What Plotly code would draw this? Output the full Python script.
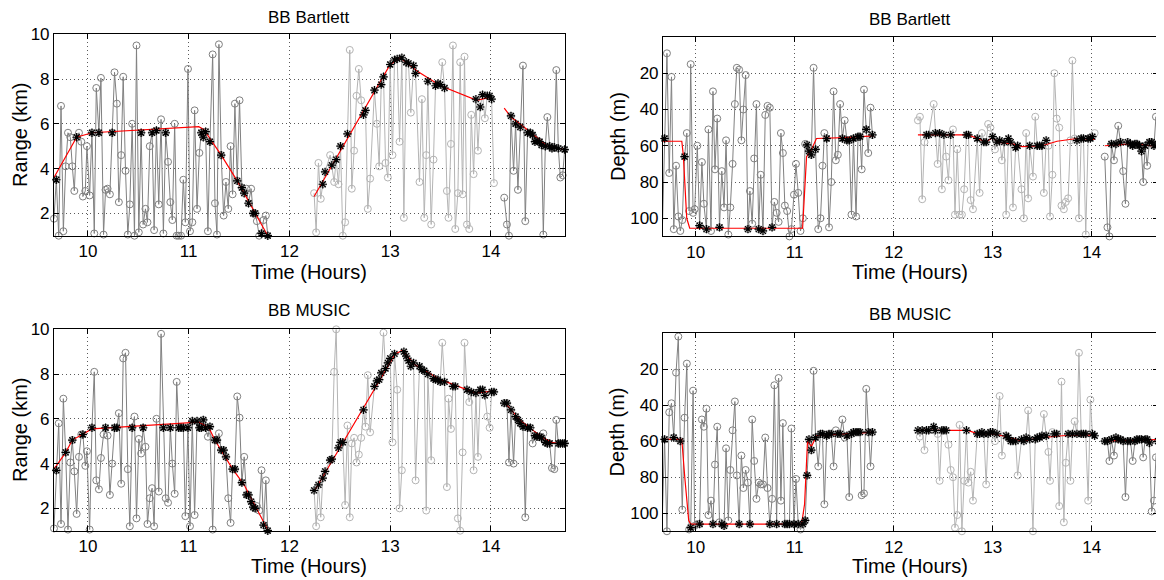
import plotly.graph_objects as go

# sample times in hours (same for all four panels)
T1 = [9.663, 9.686, 9.710, 9.733, 9.756, 9.779, 9.802, 9.825, 9.845, 9.865,
      9.888, 9.911, 9.934, 9.950, 9.974, 9.990, 10.017, 10.040, 10.063, 10.083,
      10.109, 10.129, 10.155, 10.175, 10.195, 10.218, 10.241, 10.264, 10.287, 10.307,
      10.330, 10.350, 10.373, 10.396, 10.416, 10.439, 10.462, 10.482, 10.505, 10.528,
      10.548, 10.571, 10.591, 10.614, 10.637, 10.657, 10.680, 10.703, 10.726, 10.749,
      10.772, 10.795, 10.818, 10.838, 10.861, 10.881, 10.901, 10.924, 10.947, 10.967,
      10.993, 11.013, 11.036, 11.059, 11.083, 11.106, 11.125, 11.145, 11.168, 11.191,
      11.211, 11.238, 11.261, 11.281, 11.300, 11.323, 11.347, 11.370, 11.393, 11.416,
      11.436, 11.459, 11.482, 11.505, 11.528, 11.551, 11.574, 11.594, 11.620, 11.640,
      11.660, 11.677, 11.700, 11.723, 11.743, 11.766, 11.785]
T2 = [12.245, 12.265, 12.288, 12.311, 12.331, 12.354, 12.404, 12.421, 12.444, 12.464,
      12.487, 12.507, 12.530, 12.553, 12.576, 12.599, 12.619, 12.642, 12.666, 12.689,
      12.712, 12.735, 12.755, 12.778, 12.801, 12.844, 12.868, 12.891, 12.911, 12.934,
      12.954, 12.977, 13.000, 13.023, 13.043, 13.070, 13.093, 13.116, 13.136, 13.159,
      13.182, 13.205, 13.232, 13.252, 13.291, 13.315, 13.338, 13.358, 13.374, 13.407,
      13.430, 13.450, 13.474, 13.497, 13.517, 13.540, 13.563, 13.579, 13.603, 13.623,
      13.646, 13.672, 13.695, 13.719, 13.738, 13.762, 13.785, 13.805, 13.828, 13.851,
      13.871, 13.894, 13.917, 13.940, 13.964, 13.987, 14.007, 14.030]
T3 = [14.132, 14.159, 14.179, 14.199, 14.225, 14.245, 14.268, 14.291, 14.318, 14.341,
      14.364, 14.391, 14.414, 14.437, 14.457, 14.483, 14.503, 14.520, 14.540, 14.560,
      14.583, 14.606, 14.629, 14.649, 14.669, 14.689, 14.712, 14.732]

# ---- BB Bartlett ----
BART_RANGE1 = [1.76, 3.5, 1.0, 6.8, 1.2, 4.1, 5.6, 5.4, 4.1, 3.0,
               5.4, 5.6, 5.2, 2.75, 3.0, 5.0, 2.8, 5.6, 1.1, 7.6,
               5.6, 8.05, 1.05, 3.05, 3.1, 2.85, 5.6, 8.3, 6.9, 2.5,
               4.6, 8.1, 3.9, 1.05, 2.4, 6.0, 1.0, 9.5, 1.15, 5.6,
               1.5, 2.2, 1.6, 5.0, 5.6, 1.25, 5.7, 2.4, 6.2, 1.1,
               5.6, 4.3, 2.5, 1.7, 6.0, 1.0, 1.0, 1.0, 3.5, 1.6,
               8.45, 1.2, 1.6, 6.6, 2.2, 4.7, 5.6, 5.4, 5.65, 1.2,
               5.2, 9.1, 2.45, 1.05, 9.55, 4.6, 1.9, 3.4, 2.2, 5.0,
               2.85, 6.9, 3.45, 7.05, 3.15, 2.9, 3.1, 2.45, 3.1, 2.0,
               2.0, 1.65, 1.0, 1.1, 1.7, 1.9, 1.0]
BART_RANGE2 = [2.9, 1.15, 4.25, 2.65, 3.3, 3.85, 4.6, 4.15, 3.4, 4.4,
               3.3, 5.0, 1.0, 1.6, 5.55, 9.3, 3.1, 4.8, 7.25, 8.45,
               7.05, 6.4, 6.6, 2.2, 3.55, 7.5, 6.0, 4.1, 7.75, 8.1,
               4.25, 3.6, 8.65, 4.6, 8.85, 8.9, 5.2, 8.95, 1.8, 8.75,
               8.7, 6.5, 8.6, 8.25, 3.4, 7.1, 1.8, 4.6, 7.9, 1.5,
               4.4, 7.7, 7.8, 7.75, 8.75, 7.6, 3.0, 1.8, 5.1, 9.5,
               1.3, 2.9, 8.75, 2.85, 9.0, 1.5, 1.3, 6.4, 3.75, 7.1,
               4.8, 6.75, 7.3, 6.25, 7.25, 7.25, 7.1, 3.35]
BART_RANGE3 = [2.7, 1.5, 1.0, 6.35, 3.9, 6.0, 3.05, 5.85, 8.6, 1.65,
               5.6, 5.6, 5.5, 5.2, 5.25, 5.2, 5.05, 1.05, 5.0, 6.3,
               5.0, 4.9, 4.95, 8.4, 4.9, 3.6, 3.7, 4.85]

BART_DEPTH1 = [108, 56, 9, 75, 22, 106, 71, 99, 107, 101,
               66, 53, 96, 15, 97, 95, 60, 104, 69, 92,
               106, 51, 107, 30, 73, 45, 105, 74, 94, 57,
               109, 94, 70, 37, 17, 18, 57, 40, 21, 106,
               85, 103, 67, 37, 106, 76, 107, 43, 38, 39,
               105, 91, 97, 102, 53, 64, 93, 96, 110, 106,
               87, 70, 86, 107, 100, 59, 59.5, 63, 65, 17,
               62, 106, 100, 71, 53, 56, 105, 80, 30, 68,
               65, 37, 56, 46, 57, 57, 98, 56, 99, 55,
               55, 73, 29, 51, 64, 39, 54]
BART_DEPTH2 = [46, 44, 89.5, 58, 54, 54, 37, 53, 70, 53,
               84, 54, 66, 79, 54, 51, 98, 62, 98, 98,
               84, 54, 54, 90, 95, 56, 86, 53, 58, 58,
               48, 50, 55, 62, 58, 57, 68, 58, 98, 56,
               58, 94, 61, 60, 84, 100, 53, 89, 60, 77,
               44, 60, 60, 60, 86, 57, 60, 99, 76, 20,
               45, 50, 93, 95, 91, 89, 57, 13, 56, 57,
               100, 56, 56, 109, 56, 56, 55, 53]
BART_DEPTH3 = [66, 105, 110, 59, 68, 59, 49, 58, 74, 92,
               58, 59, 60, 59, 59, 60, 63, 80, 60, 71,
               58, 58, 60, 44, 59, 74, 100, 60]

# indices of the samples that sit on the track (asterisks)
BART_HIT1 = [1, 10, 17, 20, 26, 39, 44, 46, 50, 66, 67, 68, 70, 75, 82, 84, 85, 87, 89, 90, 93, 96]
BART_HIT2 = [4, 5, 7, 9, 11, 14, 21, 22, 25, 28, 29, 32, 34, 35, 37, 39, 40, 42, 43, 48,
             51, 52, 53, 55, 69, 71, 72, 74, 75, 76]
BART_HIT3 = [3, 5, 7, 10, 11, 12, 13, 14, 15, 16, 18, 20, 21, 22, 24, 27]

BART_RANGE_TRACK_T = [9.663, 9.888, 10.04, 11.1, 11.15, 11.323, 11.482, 11.785, None,
                      12.245, 13.0, 13.1, 13.27, 13.5, 13.86, 14.007, None,
                      14.132, 14.2, 14.4, 14.56, 14.732]
BART_RANGE_TRACK = [3.6, 5.4, 5.6, 5.87, 5.75, 4.6, 3.45, 1.0, None,
                    2.75, 8.65, 8.95, 8.35, 7.7, 7.05, 7.2, None,
                    6.7, 6.3, 5.6, 5.0, 4.85]
BART_DEPTH_TRACK_T = [9.663, 9.86, 9.875, 9.91, 9.94, 11.08, 11.12, 11.17, 11.22, 11.5, 11.8, None,
                      12.245, 12.75, 12.85, 12.93, 13.0, 13.05, 13.2, 13.3, 13.5, 13.65, 13.85, 14.03, None,
                      14.132, 14.4, 14.6, 14.732]
BART_DEPTH_TRACK = [57.5, 57.5, 65, 100, 105.5, 105.5, 66, 62, 56, 55.5, 54.5, None,
                    54, 54, 56, 58, 55.5, 58, 59, 60.5, 60, 57.5, 56, 56.5, None,
                    60, 59, 60, 60]

# ---- BB MUSIC ----
MUSIC_RANGE1 = [1.1, 3.7, 5.8, 1.3, 6.9, 4.5, 1.05, 4.05, 5.05, 3.65,
                1.75, 4.3, 5.3, 5.3, 3.9, 4.55, 1.05, 5.6, 8.1, 3.25,
                2.85, 4.25, 5.3, 5.6, 5.25, 2.6, 4.0, 5.6, 5.6, 6.25,
                3.1, 8.7, 8.95, 3.75, 1.2, 5.6, 6.1, 1.55, 5.1, 4.45,
                5.6, 4.75, 1.3, 2.45, 2.9, 1.2, 6.0, 2.75, 9.8, 5.6,
                2.45, 2.25, 5.6, 4.0, 2.65, 7.65, 5.6, 5.6, 5.6, 1.65,
                5.6, 1.2, 5.9, 1.7, 5.9, 5.6, 5.6, 5.95, 5.6, 5.2,
                5.65, 1.05, 5.05, 5.05, 5.35, 4.6, 4.6, 4.3, 2.45, 1.35,
                3.75, 3.75, 7.0, 6.05, 3.15, 4.3, 2.6, 2.6, 2.3, 2.05,
                2.0, 2.1, 1.9, 3.7, 1.25, 3.25, 1.0]
MUSIC_RANGE2 = [2.8, 1.2, 3.05, 1.6, 3.35, 3.65, 4.15, 4.2, 8.1, 10.0,
                4.7, 4.95, 4.95, 2.15, 5.7, 1.6, 4.9, 5.15, 4.05, 4.4,
                5.15, 6.4, 5.65, 7.95, 5.4, 7.45, 7.7, 7.75, 8.05, 9.85,
                8.25, 8.5, 8.7, 4.95, 8.9, 7.3, 2.0, 3.7, 9.0, 8.8,
                8.6, 8.35, 8.5, 3.25, 8.35, 8.2, 8.15, 1.9, 8.0, 4.15,
                7.8, 7.75, 7.75, 7.65, 9.4, 7.65, 2.95, 6.9, 5.55, 7.45,
                7.45, 1.55, 1.0, 4.5, 9.4, 7.3, 6.75, 7.2, 3.7, 7.15,
                4.3, 7.3, 7.3, 7.05, 6.1, 5.6, 7.2, 7.2]
MUSIC_RANGE3 = [6.7, 6.7, 4.05, 6.4, 4.0, 6.1, 5.95, 5.8, 5.65, 1.6,
                5.6, 5.6, 4.9, 5.25, 5.2, 5.2, 5.15, 5.35, 4.95, 4.9,
                4.9, 3.8, 3.75, 5.95, 4.9, 4.9, 4.9, 4.9]

MUSIC_DEPTH1 = [103, 59, 110, 44, 39, 58, 22, 2, 60, 98,
                47, 17, 109, 108, 32, 107, 106, 106, 48, 52,
                42, 101, 93, 106, 73, 52, 105, 106, 107, 64,
                104, 76, 54, 38, 79, 106, 68, 86, 76, 83,
                106, 48, 71, 92, 83, 84, 84, 58, 86, 106,
                92, 29, 106, 25, 93, 50, 106, 106, 106, 53,
                106, 81, 106, 109, 106, 104, 79, 59, 65, 21,
                58, 74, 56, 56, 95, 57, 56, 56, 74, 54,
                56, 56, 48, 58, 57, 91, 56, 55, 55, 55,
                55, 90, 89, 31, 55, 74, 55]
MUSIC_DEPTH2 = [54, 57.5, 54, 65, 54, 54, 52, 54, 56, 82,
                54, 54, 54, 62, 76, 80, 108, 101, 51, 110,
                82, 54, 83, 77, 93, 56, 56, 55, 56, 84,
                56, 55, 55, 60, 56, 35, 68, 57, 57, 58,
                60, 60, 60, 79, 59, 60, 58, 43, 59, 110,
                59, 58, 58, 57, 45, 57, 66, 82, 55, 56,
                56, 96, 27, 105, 72, 56, 82, 56, 49, 56,
                11, 56, 56, 56, 93, 37, 56, 57]
MUSIC_DEPTH3 = [60, 60, 71, 59, 68, 58, 59, 59, 60, 91,
                60, 60, 71, 60, 59, 59, 59, 69, 59, 59,
                61, 99, 93, 69, 60, 60, 60, 60]

MUSIC_HIT1 = [1, 5, 8, 13, 17, 23, 27, 28, 35, 40, 49, 52, 56, 57, 58, 60, 62, 64, 65, 66,
              67, 68, 70, 72, 73, 75, 76, 77, 80, 81, 84, 86, 87, 88, 89, 90, 94, 96]
MUSIC_HIT2 = [0, 2, 4, 5, 6, 7, 10, 11, 12, 21, 25, 26, 27, 28, 30, 31, 32, 34, 38, 39,
              40, 41, 42, 44, 45, 46, 48, 50, 51, 52, 53, 55, 59, 60, 65, 67, 69, 71, 72, 73,
              76, 77]
MUSIC_HIT3 = [0, 1, 3, 5, 6, 7, 8, 10, 11, 13, 14, 15, 16, 18, 19, 20, 24, 25, 26, 27]

MUSIC_RANGE_TRACK_T = [9.663, 9.78, 9.845, 9.95, 10.04, 11.1, 11.2, 11.26, 11.32, 11.43, 11.55, 11.67, 11.79, None,
                       12.245, 13.05, 13.12, 13.25, 13.5, 13.7, 13.85, 14.03, None,
                       14.132, 14.2, 14.3, 14.4, 14.5, 14.6, 14.735]
MUSIC_RANGE_TRACK = [3.75, 4.5, 5.05, 5.3, 5.55, 5.85, 5.6, 5.05, 4.6, 3.8, 3.05, 2.0, 1.0, None,
                     2.75, 8.9, 9.05, 8.4, 7.75, 7.4, 7.15, 7.25, None,
                     6.75, 6.4, 5.9, 5.55, 5.2, 4.95, 4.85]
MUSIC_DEPTH_TRACK_T = [9.663, 9.86, 9.89, 9.93, 9.95, 11.07, 11.1, 11.13, 11.17, 11.22, 11.5, 11.8, None,
                       12.245, 12.75, 12.85, 13.0, 13.1, 13.3, 13.5, 13.7, 14.03, None,
                       14.132, 14.4, 14.732]
MUSIC_DEPTH_TRACK = [59, 59, 80, 104, 106, 106, 95, 60, 63, 57, 56, 55, None,
                     54, 54, 56, 56, 57, 60, 58, 57, 56.5, None,
                     60, 59.5, 59]

DARK = 'rgb(128,128,128)'
LIGHT = 'rgb(180,180,180)'
FONT = 'Liberation Sans, Arial, Helvetica, sans-serif'


def add_panel(fig, n, segs, hits, track_t, track_v):
    xa = 'x' if n == 1 else 'x%d' % n
    ya = 'y' if n == 1 else 'y%d' % n
    v1, v2, v3 = segs

    # dark grey: first and last run, light grey: middle run
    fig.add_trace(go.Scatter(
        x=T1 + [None] + T3, y=v1 + [None] + v3,
        mode='lines+markers',
        line=dict(color=DARK, width=1),
        marker=dict(symbol='circle-open', size=7, color=DARK, line=dict(width=1)),
        cliponaxis=False, xaxis=xa, yaxis=ya, showlegend=False))
    fig.add_trace(go.Scatter(
        x=T2, y=v2,
        mode='lines+markers',
        line=dict(color=LIGHT, width=1),
        marker=dict(symbol='circle-open', size=7, color=LIGHT, line=dict(width=1)),
        cliponaxis=False, xaxis=xa, yaxis=ya, showlegend=False))

    fig.add_trace(go.Scatter(
        x=track_t, y=track_v, mode='lines',
        line=dict(color='red', width=1.2),
        xaxis=xa, yaxis=ya, showlegend=False))

    h1, h2, h3 = hits
    hx = [T1[i] for i in h1] + [T2[i] for i in h2] + [T3[i] for i in h3]
    hy = [v1[i] for i in h1] + [v2[i] for i in h2] + [v3[i] for i in h3]
    fig.add_trace(go.Scatter(
        x=hx, y=hy, mode='markers',
        marker=dict(symbol='asterisk-open', size=7, color='black',
                    line=dict(color='black', width=1.2)),
        cliponaxis=False, xaxis=xa, yaxis=ya, showlegend=False))


def x_axis(domain, rng, anchor):
    return dict(domain=domain, range=rng, anchor=anchor, tickvals=[10, 11, 12, 13, 14],
                ticks='inside', ticklen=5, tickcolor='black', showline=True,
                linecolor='black', linewidth=1, mirror='ticks', showgrid=True,
                gridcolor='rgb(90,90,90)', griddash='1px,3px', gridwidth=1,
                zeroline=False, automargin=False, tickfont=dict(size=17, color='black'))


def y_axis(domain, rng, ticks, anchor):
    return dict(domain=domain, range=rng, anchor=anchor, tickvals=ticks,
                ticks='inside', ticklen=5, tickcolor='black', showline=True,
                linecolor='black', linewidth=1, mirror='ticks', showgrid=True,
                gridcolor='rgb(90,90,90)', griddash='1px,3px', gridwidth=1,
                zeroline=False, automargin=False, tickfont=dict(size=17, color='black'))


fig = go.Figure()
add_panel(fig, 1, (BART_RANGE1, BART_RANGE2, BART_RANGE3), (BART_HIT1, BART_HIT2, BART_HIT3),
          BART_RANGE_TRACK_T, BART_RANGE_TRACK)
add_panel(fig, 2, (BART_DEPTH1, BART_DEPTH2, BART_DEPTH3), (BART_HIT1, BART_HIT2, BART_HIT3),
          BART_DEPTH_TRACK_T, BART_DEPTH_TRACK)
add_panel(fig, 3, (MUSIC_RANGE1, MUSIC_RANGE2, MUSIC_RANGE3), (MUSIC_HIT1, MUSIC_HIT2, MUSIC_HIT3),
          MUSIC_RANGE_TRACK_T, MUSIC_RANGE_TRACK)
add_panel(fig, 4, (MUSIC_DEPTH1, MUSIC_DEPTH2, MUSIC_DEPTH3), (MUSIC_HIT1, MUSIC_HIT2, MUSIC_HIT3),
          MUSIC_DEPTH_TRACK_T, MUSIC_DEPTH_TRACK)

# the page body adds an 8px offset, so domains are shifted up/left by 8px
left = [0.0395, 0.4785]
right = [0.5627, 0.9880]
fig.update_layout(
    xaxis=x_axis(left, [9.663, 14.735], 'y'),
    yaxis=y_axis([0.6074, 0.9547], [1, 10], [2, 4, 6, 8, 10], 'x'),
    xaxis2=x_axis(right, [9.67, 14.67], 'y2'),
    yaxis2=y_axis([0.6062, 0.9500], [110, 0], [20, 40, 60, 80, 100], 'x2'),
    xaxis3=x_axis(left, [9.663, 14.735], 'y3'),
    yaxis3=y_axis([0.0988, 0.4460], [1, 10], [2, 4, 6, 8, 10], 'x3'),
    xaxis4=x_axis(right, [9.67, 14.67], 'y4'),
    yaxis4=y_axis([0.0978, 0.4397], [110, 0], [20, 40, 60, 80, 100], 'x4'),
)

labels = [
    ('BB Bartlett', 0.2590, 0.9828, 0, 17),
    ('BB Bartlett', 0.7753, 0.9810, 0, 17),
    ('BB MUSIC', 0.2590, 0.4776, 0, 17),
    ('BB MUSIC', 0.7753, 0.4724, 0, 17),
    ('Time (Hours)', 0.2590, 0.5448, 0, 20),
    ('Time (Hours)', 0.7753, 0.5448, 0, 20),
    ('Time (Hours)', 0.2590, 0.0379, 0, 20),
    ('Time (Hours)', 0.7753, 0.0379, 0, 20),
    ('Range (km)', 0.0103, 0.7810, -90, 20),
    ('Range (km)', 0.0103, 0.2724, -90, 20),
    ('Depth (m)', 0.5236, 0.7784, -90, 20),
    ('Depth (m)', 0.5236, 0.2690, -90, 20),
]
for text, x, y, angle, size in labels:
    fig.add_annotation(text=text, x=x, y=y, xref='paper', yref='paper',
                       xanchor='center', yanchor='middle', textangle=angle,
                       showarrow=False, borderpad=0, font=dict(size=size, color='black'))

fig.update_layout(
    width=1164, height=580,
    margin=dict(l=0, r=0, t=0, b=0, autoexpand=False),
    paper_bgcolor='white', plot_bgcolor='white',
    font=dict(family=FONT, color='black'),
    showlegend=False,
)

fig.write_html("out.html")
